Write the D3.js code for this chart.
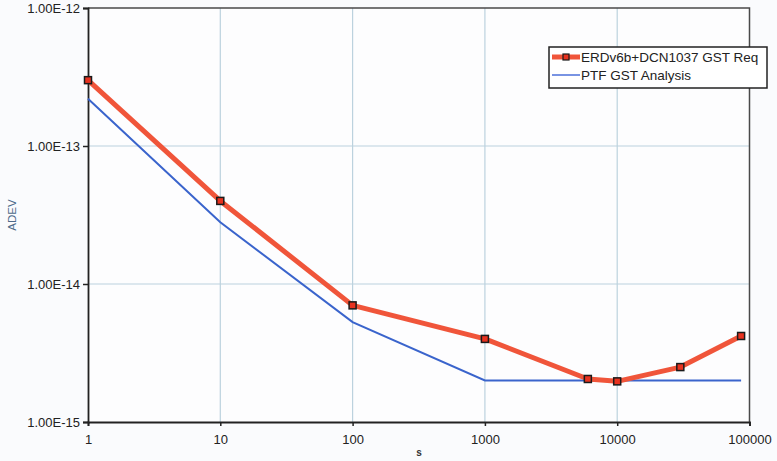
<!DOCTYPE html>
<html>
<head>
<meta charset="utf-8">
<script src="https://cdn.jsdelivr.net/npm/d3@7"></script>
<style>
html,body{margin:0;padding:0;background:#fafbfd;}
svg{display:block;}
text{font-family:"Liberation Sans",Arial,sans-serif;}
</style>
</head>
<body>
<svg id="chart" width="777" height="461"></svg>
<script>
// ---- data ----
const reqTau = [1, 10, 100, 1000, 6000, 10000, 30000, 86400];
const reqAdev = [3.0e-13, 4.0e-14, 7.0e-15, 4.0e-15, 2.05e-15, 1.97e-15, 2.5e-15, 4.2e-15];
const ptfTau = [1, 10, 100, 1000, 10000, 86400];
const ptfAdev = [2.2e-13, 2.8e-14, 5.3e-15, 2.0e-15, 2.0e-15, 2.0e-15];
const xTicks = [1, 10, 100, 1000, 10000, 100000];
const xTickLabels = ["1", "10", "100", "1000", "10000", "100000"];
const yTicks = [1e-15, 1e-14, 1e-13, 1e-12];
const yTickLabels = ["1.00E-15", "1.00E-14", "1.00E-13", "1.00E-12"];
const seriesNames = ["ERDv6b+DCN1037 GST Req", "PTF GST Analysis"];
const xTitle = "s";
const yTitle = "ADEV";

// ---- layout ----
const L = 88, R = 749.5, T = 8, B = 422;
const svg = d3.select("#chart");
const x = d3.scaleLog().domain([1, 100000]).range([L, R]);
const y = d3.scaleLog().domain([1e-15, 1e-12]).range([B, T]);

svg.append("rect").attr("width", 777).attr("height", 461).attr("fill", "#fafbfd");
svg.append("rect").attr("x", L).attr("y", T).attr("width", R - L).attr("height", B - T).attr("fill", "#fdfdfe");

// gridlines
const grid = svg.append("g").attr("stroke", "#bcd2de").attr("stroke-width", 1.2);
grid.selectAll("line.vx").data(xTicks.slice(1, -1)).join("line")
  .attr("x1", d => x(d)).attr("x2", d => x(d)).attr("y1", T).attr("y2", B);
grid.selectAll("line.hy").data(yTicks.slice(1, -1)).join("line")
  .attr("y1", d => y(d)).attr("y2", d => y(d)).attr("x1", L).attr("x2", R);

// plot border (top, right)
svg.append("path").attr("d", `M${L},${T}H${R}V${B}`).attr("fill", "none")
  .attr("stroke", "#4a4a4a").attr("stroke-width", 1.5);

// axes
const xAxis = d3.axisBottom(x).tickValues(xTicks).tickFormat((d, i) => xTickLabels[i]).tickSize(4).tickPadding(9);
const yAxis = d3.axisLeft(y).tickValues(yTicks).tickFormat((d, i) => yTickLabels[i]).tickSize(5).tickPadding(3);
const gx = svg.append("g").attr("transform", `translate(0,${B})`).call(xAxis);
const gy = svg.append("g").attr("transform", `translate(${L},0)`).call(yAxis);
[gx, gy].forEach(g => {
  g.select(".domain").attr("stroke", "#222").attr("stroke-width", 1.8);
  g.selectAll(".tick line").attr("stroke", "#222").attr("stroke-width", 1.5);
  g.selectAll(".tick text").attr("fill", "#222").attr("font-size", 13)
    .attr("font-family", "'Liberation Sans', Arial, sans-serif");
});

// axis titles
svg.append("text").attr("x", 419).attr("y", 456).attr("text-anchor", "middle")
  .attr("font-size", 10).attr("font-weight", "bold").attr("fill", "#333").text(xTitle);
svg.append("text").attr("transform", "translate(16,215) rotate(-90)").attr("text-anchor", "middle")
  .attr("font-size", 11.5).attr("fill", "#4d6a8a").text(yTitle);

// lines
const lineGen = d3.line().x(d => x(d[0])).y(d => y(d[1]));
const reqData = reqTau.map((t, i) => [t, reqAdev[i]]);
const ptfData = ptfTau.map((t, i) => [t, ptfAdev[i]]);

svg.append("path").datum(ptfData).attr("fill", "none").attr("stroke", "#3a64cc")
  .attr("stroke-width", 2).attr("d", lineGen);

svg.append("path").datum(reqData).attr("fill", "none").attr("stroke", "#f0553a")
  .attr("stroke-width", 5).attr("stroke-linejoin", "round").attr("stroke-linecap", "round")
  .attr("d", lineGen);

svg.selectAll("rect.mk").data(reqData).join("rect").attr("class", "mk")
  .attr("x", d => x(d[0]) - 3.5).attr("y", d => y(d[1]) - 3.5)
  .attr("width", 7).attr("height", 7)
  .attr("fill", "#e8321f").attr("stroke", "#1a1a1a").attr("stroke-width", 1.5);

// legend
const lg = svg.append("g");
lg.append("rect").attr("x", 549).attr("y", 47).attr("width", 218).attr("height", 41)
  .attr("fill", "#ffffff").attr("stroke", "#222").attr("stroke-width", 1.5);
lg.append("line").attr("x1", 552).attr("x2", 580).attr("y1", 57).attr("y2", 57)
  .attr("stroke", "#f0553a").attr("stroke-width", 5);
lg.append("rect").attr("x", 563).attr("y", 54).attr("width", 6).attr("height", 6)
  .attr("fill", "#e8321f").attr("stroke", "#1a1a1a").attr("stroke-width", 1.2);
lg.append("line").attr("x1", 552).attr("x2", 580).attr("y1", 75).attr("y2", 75)
  .attr("stroke", "#6a88e0").attr("stroke-width", 1.8);
lg.selectAll("text.lt").data(seriesNames).join("text").attr("class", "lt")
  .attr("x", 581).attr("y", (d, i) => 62 + i * 18)
  .attr("font-size", 13.5).attr("fill", "#222").text(d => d);
</script>
</body>
</html>
